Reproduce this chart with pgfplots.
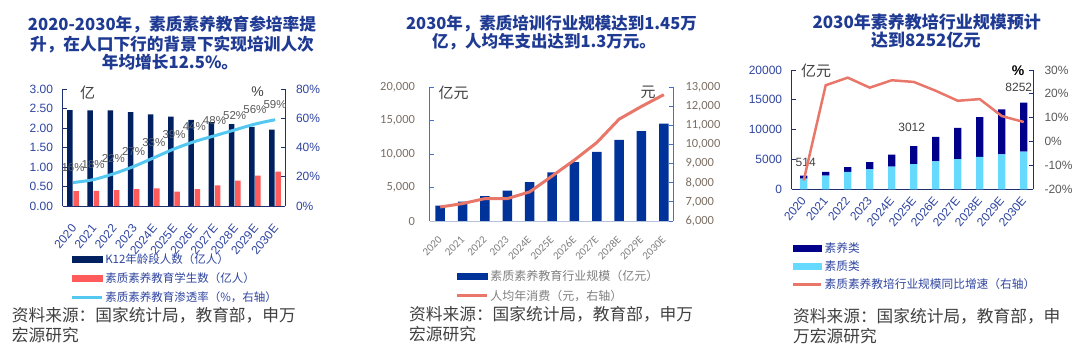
\documentclass[border=0pt]{standalone}
\usepackage{pgfplots}
\pgfplotsset{compat=1.18}
\usepackage{fontspec}
\setmainfont{Liberation Sans}
\newfontfamily\cjk{Noto Sans CJK SC}
\newfontfamily\calfont{Carlito}
\definecolor{titleblue}{HTML}{1F3A93}
\definecolor{axisA}{HTML}{1F3070}
\definecolor{tickA}{HTML}{2F45A0}
\definecolor{navyA}{HTML}{002060}
\definecolor{redA}{HTML}{FF5B5B}
\definecolor{cyanA}{HTML}{55C8F2}
\definecolor{labgray}{HTML}{595959}
\definecolor{blueB}{HTML}{003399}
\definecolor{spineB}{HTML}{4472C4}
\definecolor{baseB}{HTML}{B4C0DC}
\definecolor{tickB}{HTML}{7B6E63}
\definecolor{grayB}{HTML}{7F7F7F}
\definecolor{salmon}{HTML}{E8776A}
\definecolor{navyC}{HTML}{00008B}
\definecolor{cyanC}{HTML}{66D9FF}
\definecolor{darkgray}{HTML}{404040}
\newcommand{\fs}[1]{\fontsize{#1}{#1}\selectfont}
\pgfplotsset{/pgf/number format/assume math mode=true}
\pgfplotstableread{
x  y      label dx dy
0  2300   514    2   9
5  7250   3012  -2  14
10 14550  8252  -5  11
}\labelsC
\begin{document}
\begin{tikzpicture}
\path[use as bounding box] (0pt,0pt) rectangle (1080pt,352pt);

% ================= Panel 1 =================
\begin{axis}[
  at={(62.5pt,146pt)}, anchor=south west, scale only axis,
  width=222.5pt, height=117pt,
  xmin=-0.52, xmax=10.49, ymin=0, ymax=3,
  axis x line*=bottom, axis y line*=left,
  axis line style={draw=axisA, line width=0.9pt, -},
  xtick={0,...,10},
  xticklabels={2020,2021,2022,2023,2024E,2025E,2026E,2027E,2028E,2029E,2030E},
  x tick style={draw=none},
  xticklabel style={font=\fs{12}, text=tickA, xshift=1pt, rotate=50, anchor=east, inner sep=0pt},
  xticklabel shift=16pt,
  ytick={0,0.5,1,1.5,2,2.5,3},
  tick align=inside, major tick length=4pt,
  y tick style={draw=axisA, line width=0.8pt},
  yticklabel style={font=\fs{12}, text=tickA, xshift=-6pt, /pgf/number format/.cd, fixed, fixed zerofill, precision=2},
  ybar=0.7pt, bar width=5.5pt,
]
\addplot[fill=navyA, draw=none] coordinates {(0,2.46) (1,2.45) (2,2.45) (3,2.41) (4,2.35) (5,2.29) (6,2.21) (7,2.15) (8,2.10) (9,2.03) (10,1.96)};
\addplot[fill=redA, draw=none] coordinates {(0,0.38) (1,0.39) (2,0.41) (3,0.43) (4,0.45) (5,0.37) (6,0.43) (7,0.53) (8,0.65) (9,0.78) (10,0.88)};
\end{axis}
\begin{axis}[
  at={(62.5pt,146pt)}, anchor=south west, scale only axis,
  width=222.5pt, height=117pt,
  xmin=-0.52, xmax=10.49, ymin=0, ymax=80,
  axis x line=none, axis y line*=right,
  axis line style={draw=axisA, line width=0.9pt, -},
  ytick={0,20,40,60,80},
  yticklabel={\pgfmathprintnumber{\tick}\%},
  tick align=inside, major tick length=4pt,
  y tick style={draw=axisA, line width=0.8pt},
  yticklabel style={font=\fs{12}, text=tickA, xshift=7.5pt},
  legend style={at={(axis description cs:0.034,-0.385)}, anchor=north west, draw=none, fill=none, inner sep=0pt, row sep=4pt, font=\cjk\fs{11.5}, text=tickA, cells={anchor=west}, /tikz/every even column/.append style={column sep=3pt}},
  legend cell align=left,
]
\addplot[cyanA, line width=3pt, smooth, mark=none, forget plot,
  nodes near coords={\pgfmathprintnumber[precision=0]{\pgfplotspointmeta}\%},
  every node near coord/.append style={font=\fs{11.5}, text=labgray, anchor=south, yshift=6pt}]
  coordinates {(0,16) (1,18) (2,22) (3,27) (4,33) (5,39) (6,44) (7,48) (8,52) (9,56) (10,59)};
\addlegendimage{legend image code/.code={\fill[navyA] (0pt,-3pt) rectangle (30pt,3pt);}}
\addlegendentry{K12年龄段人数（亿人）}
\addlegendimage{legend image code/.code={\fill[redA] (0pt,-3pt) rectangle (30pt,3pt);}}
\addlegendentry{素质素养教育学生数（亿人）}
\addlegendimage{legend image code/.code={\draw[cyanA, line width=3pt] (0pt,0pt) -- (30pt,0pt);}}
\addlegendentry{素质素养教育渗透率（\%，右轴）}
\end{axis}
\node[font=\cjk\fs{15}, text=darkgray] at (87.5pt,259.5pt) {亿};
\node[font=\fs{14}, text=darkgray] at (257.5pt,260pt) {\%};
\node[font=\cjk\bfseries\fs{16.7}, text=titleblue] at (172pt,327pt) {2020-2030年，素质素养教育参培率提};
\node[font=\cjk\bfseries\fs{16.7}, text=titleblue] at (172pt,307pt) {升，在人口下行的背景下实现培训人次};
\node[font=\cjk\bfseries\fs{16.7}, text=titleblue] at (170pt,290.3pt) {年均增长12.5\%。};
\node[font=\cjk\fs{16.7}, text=darkgray, anchor=west, inner sep=0pt] at (11.7pt,37pt) {资料来源：国家统计局，教育部，申万};
\node[font=\cjk\fs{16.7}, text=darkgray, anchor=west, inner sep=0pt] at (11.7pt,17pt) {宏源研究};

% ================= Panel 2 =================
\begin{axis}[
  at={(429.5pt,131pt)}, anchor=south west, scale only axis,
  width=243.5pt, height=134pt,
  xmin=-0.48, xmax=10.41, ymin=0, ymax=20000,
  axis x line*=bottom, axis y line*=left,
  x axis line style={draw=baseB, line width=0.8pt, -},
  y axis line style={draw=spineB, line width=0.9pt, -},
  xtick={0,...,10},
  xticklabels={2020,2021,2022,2023,2024E,2025E,2026E,2027E,2028E,2029E,2030E},
  x tick style={draw=none},
  xticklabel style={font=\calfont\fs{11}, text=grayB, rotate=45, anchor=east, inner sep=0pt},
  xticklabel shift=13pt,
  ytick={0,5000,10000,15000,20000}, scaled y ticks=false,
  tick align=inside, major tick length=4pt,
  y tick style={draw=spineB, line width=0.8pt},
  yticklabel style={font=\calfont\fs{12.5}, text=tickB, xshift=-11pt, /pgf/number format/.cd, 1000 sep={,}},
  ybar, bar width=9.5pt,
]
\addplot[fill=blueB, draw=none] coordinates {(0,2300) (1,2900) (2,3700) (3,4550) (4,5800) (5,7250) (6,8800) (7,10300) (8,12100) (9,13400) (10,14550)};
\end{axis}
\begin{axis}[
  at={(429.5pt,131pt)}, anchor=south west, scale only axis,
  width=243.5pt, height=134pt,
  xmin=-0.48, xmax=10.41, ymin=6000, ymax=13000,
  axis x line=none, axis y line*=right,
  axis line style={draw=spineB, line width=0.9pt, -},
  ytick={6000,7000,...,13000}, scaled y ticks=false,
  tick align=inside, major tick length=4pt,
  y tick style={draw=spineB, line width=0.8pt},
  yticklabel style={font=\calfont\fs{12.5}, text=tickB, xshift=9pt, /pgf/number format/.cd, 1000 sep={,}},
  legend style={at={(axis description cs:0.105,-0.351)}, anchor=north west, draw=none, fill=none, inner sep=0pt, row sep=4pt, font=\cjk\fs{12}, text=grayB, cells={anchor=west}, /tikz/every even column/.append style={column sep=3pt}},
  legend cell align=left,
]
\addplot[salmon, line width=3pt, mark=none, forget plot]
  coordinates {(0,6730) (1,6910) (2,7170) (3,7170) (4,7520) (5,8345) (6,9185) (7,10095) (8,11320) (9,11985) (10,12600)};
\addlegendimage{legend image code/.code={\fill[blueB] (0pt,-3pt) rectangle (30pt,3pt);}}
\addlegendentry{素质素养教育行业规模（亿元）}
\addlegendimage{legend image code/.code={\draw[salmon, line width=3pt] (0pt,0pt) -- (30pt,0pt);}}
\addlegendentry{人均年消费（元，右轴）}
\end{axis}
\node[font=\cjk\fs{15}, text=darkgray] at (453.5pt,259.5pt) {亿元};
\node[font=\cjk\fs{15}, text=darkgray] at (648pt,259.5pt) {元};
\node[font=\cjk\bfseries\fs{16.5}, text=titleblue] at (551.5pt,328.7pt) {2030年，素质培训行业规模达到1.45万};
\node[font=\cjk\bfseries\fs{16.5}, text=titleblue] at (544pt,310.3pt) {亿，人均年支出达到1.3万元。};
\node[font=\cjk\fs{16.7}, text=darkgray, anchor=west, inner sep=0pt] at (409pt,38pt) {资料来源：国家统计局，教育部，申万};
\node[font=\cjk\fs{16.7}, text=darkgray, anchor=west, inner sep=0pt] at (409pt,18pt) {宏源研究};

% ================= Panel 3 =================
\begin{axis}[
  at={(791.7pt,162.7pt)}, anchor=south west, scale only axis,
  width=241.3pt, height=119.3pt,
  xmin=-0.545, xmax=10.42, ymin=0, ymax=20000,
  axis x line*=bottom, axis y line*=left,
  axis line style={draw=axisA, line width=0.9pt, -},
  xtick={0,...,10},
  xticklabels={2020,2021,2022,2023,2024E,2025E,2026E,2027E,2028E,2029E,2030E},
  x tick style={draw=none},
  xticklabel style={font=\fs{12}, text=tickA, rotate=50, anchor=east, inner sep=0pt},
  xticklabel shift=9pt,
  ytick={0,5000,10000,15000,20000}, scaled y ticks=false,
  tick align=inside, major tick length=4pt,
  y tick style={draw=axisA, line width=0.8pt},
  yticklabel style={font=\fs{12}, text=tickA, xshift=-6pt, /pgf/number format/.cd, 1000 sep={}},
  ybar stacked, bar width=7.3pt,
]
\addplot[fill=cyanC, draw=none] coordinates {(0,1786) (1,2290) (2,2900) (3,3350) (4,3800) (5,4238) (6,4700) (7,5050) (8,5450) (9,5870) (10,6298)};
\addplot[fill=navyC, draw=none] coordinates {(0,514) (1,610) (2,800) (3,1200) (4,2000) (5,3012) (6,4100) (7,5250) (8,6650) (9,7530) (10,8252)};
\end{axis}
\begin{axis}[
  at={(791.7pt,162.7pt)}, anchor=south west, scale only axis,
  width=241.3pt, height=119.3pt,
  xmin=-0.545, xmax=10.42, ymin=0, ymax=20000,
  hide axis,
]
\addplot[draw=none, mark=none, point meta=explicit symbolic, nodes near coords,
  visualization depends on={\thisrow{dx} \as \ldx},
  visualization depends on={\thisrow{dy} \as \ldy},
  every node near coord/.append style={font=\fs{12}, text=darkgray, anchor=south, inner sep=0pt, xshift=\ldx pt, yshift=\ldy pt}]
  table[x=x, y=y, meta=label] {\labelsC};
\end{axis}
\begin{axis}[
  at={(791.7pt,162.7pt)}, anchor=south west, scale only axis,
  width=241.3pt, height=119.3pt,
  xmin=-0.545, xmax=10.42, ymin=-20, ymax=30,
  axis x line=none, axis y line*=right,
  axis line style={draw=axisA, line width=0.9pt, -},
  ytick={-20,-10,0,10,20,30},
  yticklabel={\pgfmathprintnumber{\tick}\%},
  tick align=inside, major tick length=4pt,
  y tick style={draw=axisA, line width=0.8pt},
  yticklabel style={font=\fs{12}, text=labgray, xshift=8pt},
  legend style={at={(axis description cs:0.001,-0.425)}, anchor=north west, draw=none, fill=none, inner sep=0pt, row sep=3pt, font=\cjk\fs{11.7}, text=tickA, cells={anchor=west}, /tikz/every even column/.append style={column sep=3pt}},
  legend cell align=left,
]
\addplot[salmon, line width=2.5pt, mark=none, forget plot]
  coordinates {(0,-16.3) (1,23.6) (2,26.8) (3,22.6) (4,25.7) (5,25.0) (6,21.3) (7,17.1) (8,17.8) (9,10.7) (10,8.2)};
\addlegendimage{legend image code/.code={\fill[navyC] (0pt,-3pt) rectangle (28pt,3pt);}}
\addlegendentry{素养类}
\addlegendimage{legend image code/.code={\fill[cyanC] (0pt,-3pt) rectangle (28pt,3pt);}}
\addlegendentry{素质类}
\addlegendimage{legend image code/.code={\draw[salmon, line width=2.5pt] (0pt,0pt) -- (28pt,0pt);}}
\addlegendentry{素质素养教培行业规模同比增速（右轴）}
\end{axis}
\node[font=\cjk\fs{15}, text=darkgray] at (816pt,281pt) {亿元};
\node[font=\bfseries\fs{14}, text=black] at (1018pt,281pt) {\%};
\node[font=\cjk\bfseries\fs{17}, text=titleblue] at (926.7pt,330.3pt) {2030年素养教培行业规模预计};
\node[font=\cjk\bfseries\fs{17}, text=titleblue] at (925.8pt,312pt) {达到8252亿元};
\node[font=\cjk\fs{16.7}, text=darkgray, anchor=west, inner sep=0pt] at (793pt,35.3pt) {资料来源：国家统计局，教育部，申};
\node[font=\cjk\fs{16.7}, text=darkgray, anchor=west, inner sep=0pt] at (793pt,16.3pt) {万宏源研究};
\end{tikzpicture}
\end{document}
